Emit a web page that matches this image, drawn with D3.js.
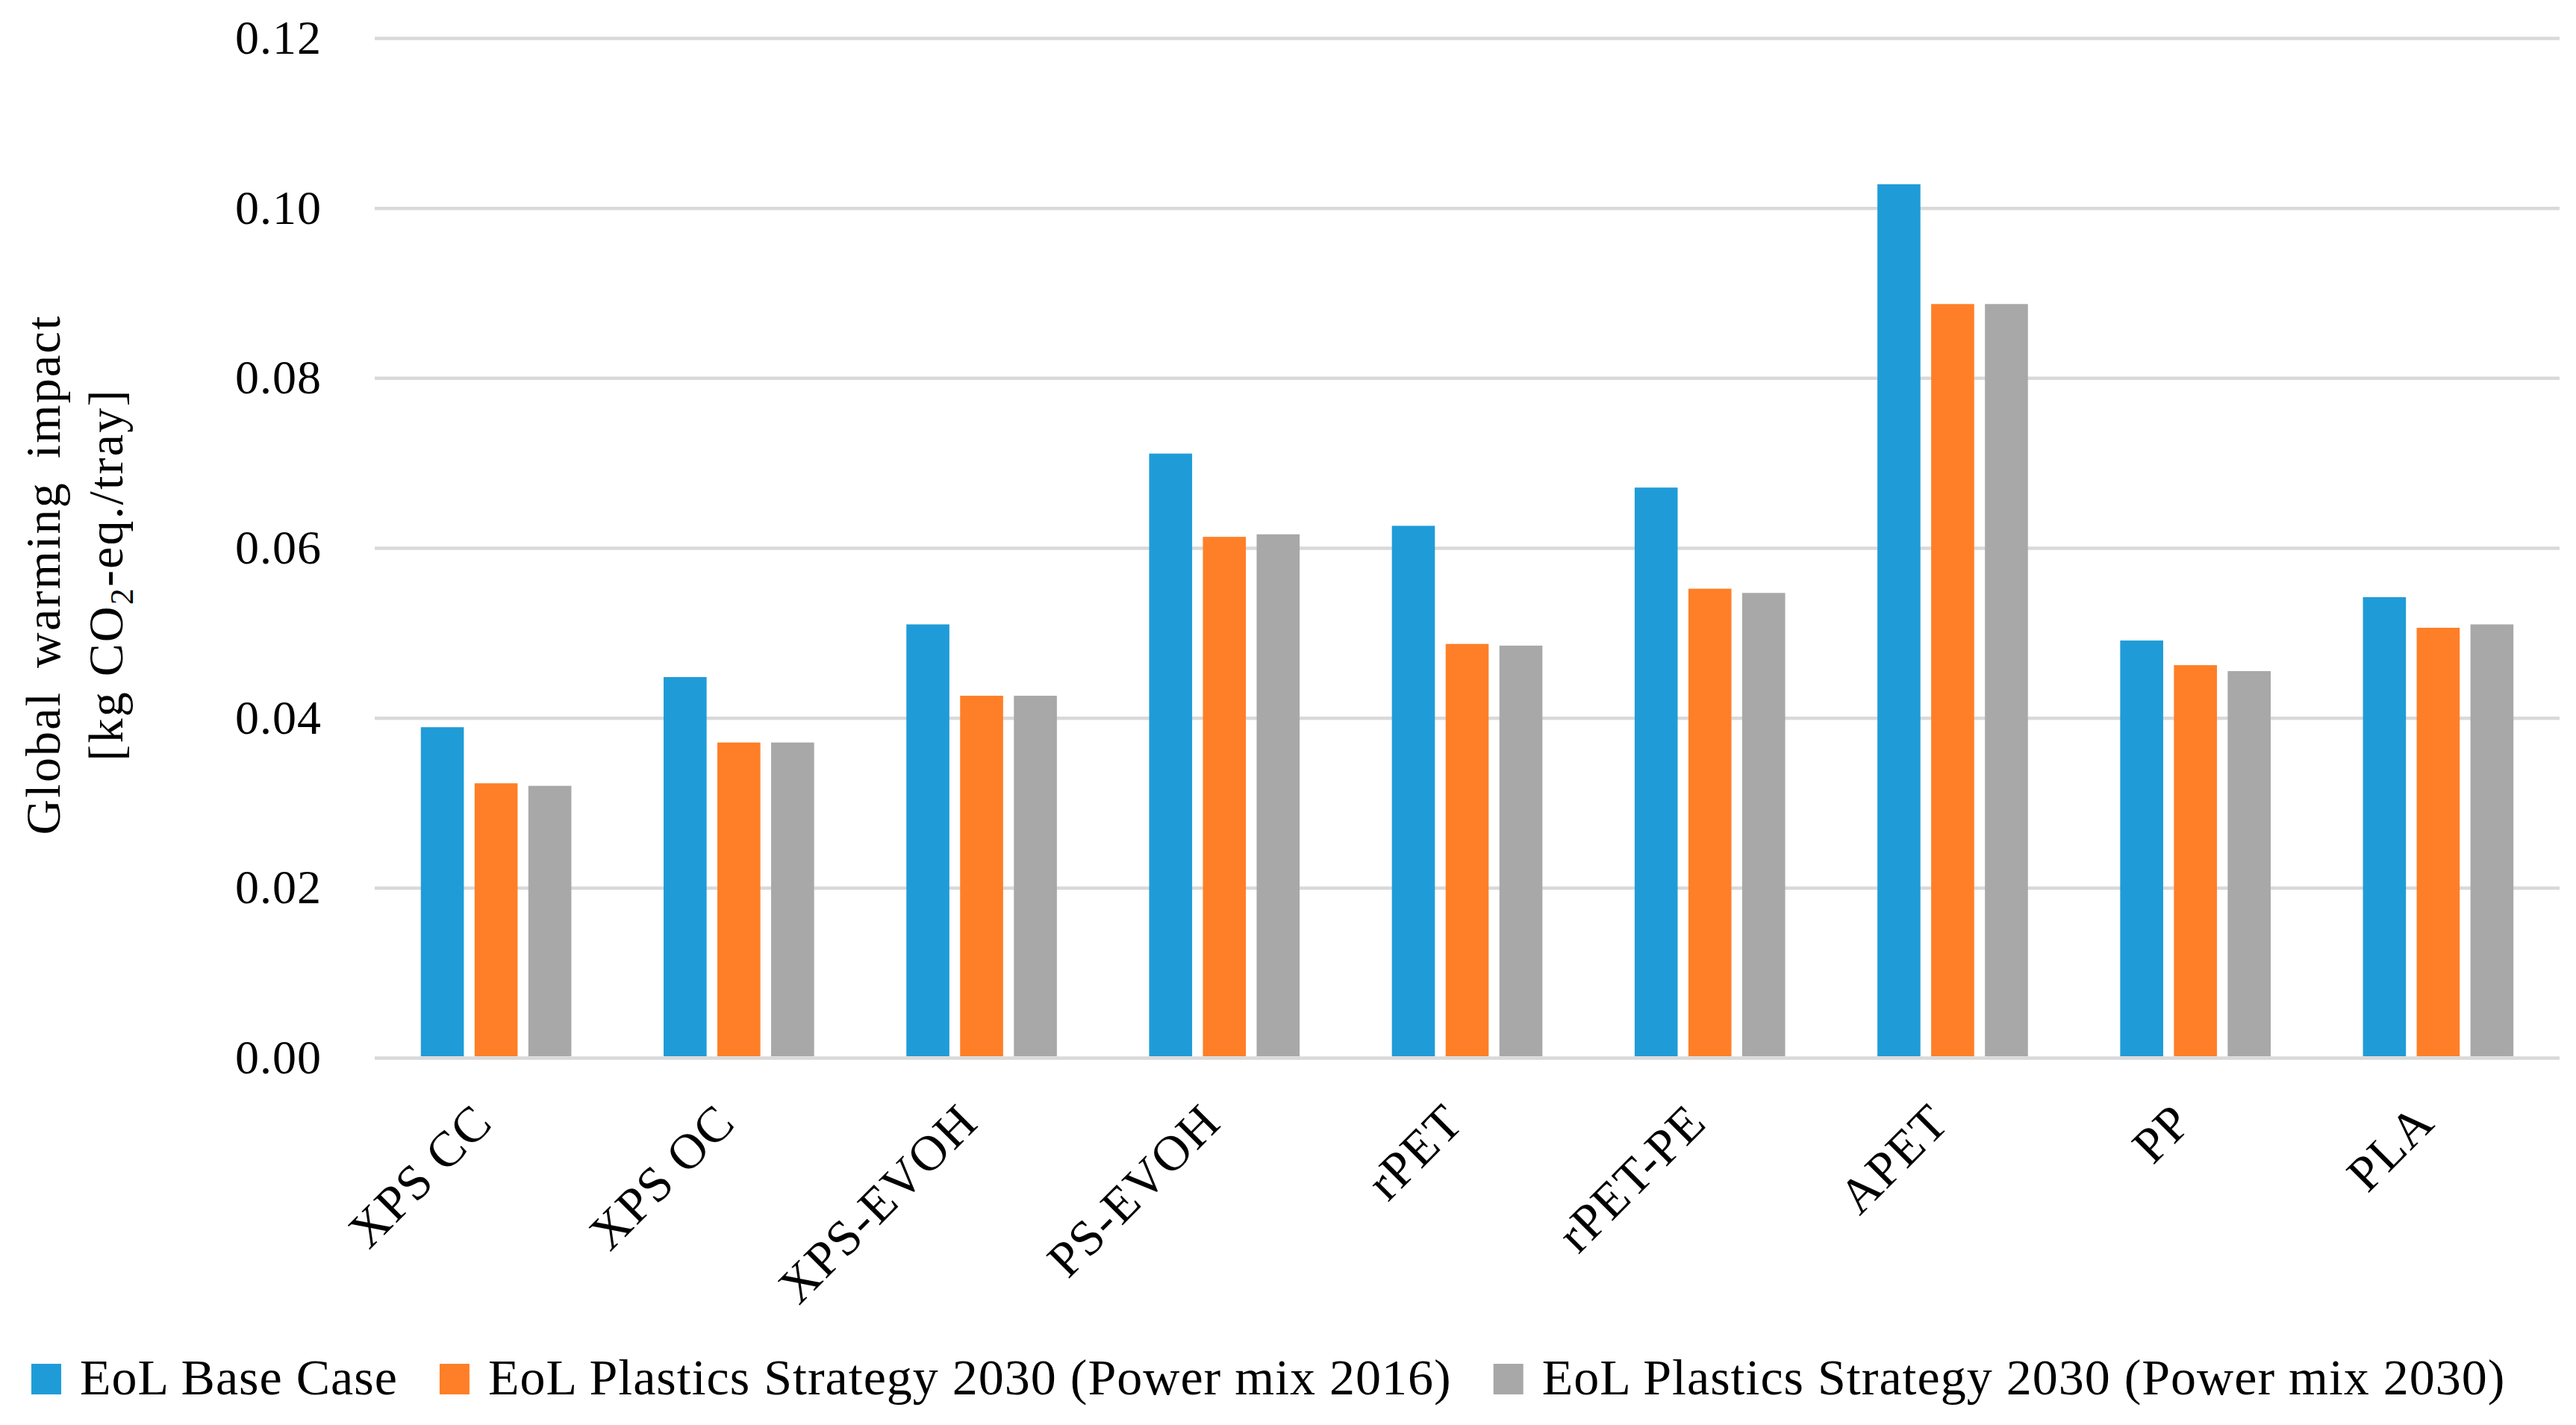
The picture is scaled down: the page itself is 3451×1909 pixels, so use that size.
<!DOCTYPE html>
<html>
<head>
<meta charset="utf-8">
<script src="https://cdn.jsdelivr.net/npm/d3@7"></script>
<style>
  body { margin: 0; background: #fff; }
  text { font-family: "Palatino Linotype", "Book Antiqua", Palatino, "Liberation Serif", serif; fill: #000; }
</style>
</head>
<body>
<div id="chart"></div>
<script>
// data
const categories = ["XPS CC", "XPS OC", "XPS-EVOH", "PS-EVOH", "rPET", "rPET-PE", "APET", "PP", "PLA"]
const seriesNames = ["EoL Base Case", "EoL Plastics Strategy 2030 (Power mix 2016)", "EoL Plastics Strategy 2030 (Power mix 2030)"]
const baseCase     = [0.0389, 0.0448, 0.0510, 0.0711, 0.0626, 0.0671, 0.1028, 0.0491, 0.0542]
const strategy2016 = [0.0323, 0.0371, 0.0426, 0.0613, 0.0487, 0.0552, 0.0887, 0.0462, 0.0506]
const strategy2030 = [0.0320, 0.0371, 0.0426, 0.0616, 0.0485, 0.0547, 0.0887, 0.0455, 0.0510]
const yTicks = [0, 0.02, 0.04, 0.06, 0.08, 0.10, 0.12]
const colors = ["#1F9CD8", "#FE7F27", "#A8A8A8"]

const seriesValues = [baseCase, strategy2016, strategy2030]

const W = 3451, H = 1909
const plotLeft = 502, plotRight = 3429, plotTop = 51, plotBottom = 1417

const svg = d3.select("#chart")
  .append("svg")
    .attr("width", W)
    .attr("height", H)

// scales
const x0 = d3.scaleBand()
  .domain(categories)
  .range([plotLeft, plotRight])
  .paddingInner(0.38)
  .paddingOuter(0.19)

const x1 = d3.scaleBand()
  .domain(seriesNames)
  .range([0, x0.bandwidth()])
  .paddingInner(0.2)

const y = d3.scaleLinear()
  .domain([0, 0.12])
  .range([plotBottom, plotTop])

// gridlines + y tick labels
const yAxis = svg.append("g")
  .attr("transform", "translate(" + plotLeft + ",0)")
  .call(d3.axisLeft(y).tickValues(yTicks).tickFormat(d3.format(".2f")).tickSize(-(plotRight - plotLeft)).tickPadding(71))

yAxis.select(".domain").remove()
yAxis.attr("font-family", null).attr("font-size", null)
yAxis.selectAll(".tick line").attr("stroke", "#D9D9D9").attr("stroke-width", 4.5)
yAxis.selectAll(".tick text").attr("font-size", 64).attr("letter-spacing", 1)

// bars
const rows = categories.map((c, i) => ({cat: c, vals: seriesValues.map((s, j) => ({name: seriesNames[j], v: s[i], k: j}))}))

svg.append("g")
  .selectAll("g")
  .data(rows)
  .enter()
  .append("g")
    .attr("transform", d => "translate(" + x0(d.cat) + ",0)")
  .selectAll("rect")
  .data(d => d.vals)
  .enter()
  .append("rect")
    .attr("x", d => x1(d.name))
    .attr("y", d => y(d.v))
    .attr("width", x1.bandwidth())
    .attr("height", d => y(0) - y(d.v) - 2)
    .style("fill", d => colors[d.k])

// category labels, rotated
svg.append("g")
  .selectAll("text")
  .data(categories)
  .enter()
  .append("text")
    .attr("transform", d => "translate(" + (x0(d) + x0.bandwidth() / 2 - 2) + "," + (plotBottom + 90) + ") rotate(-45)")
    .attr("text-anchor", "end")
    .attr("font-size", 67)
    .attr("letter-spacing", 1.5)
    .text(d => d)

// y axis title
const yTitle = svg.append("g")
  .attr("transform", "translate(0," + 770 + ") rotate(-90)")

yTitle.append("text")
  .attr("x", 0).attr("y", 80)
  .attr("text-anchor", "middle")
  .attr("font-size", 66)
  .attr("letter-spacing", 2.2)
  .attr("word-spacing", 12)
  .text("Global warming impact")

const t2 = yTitle.append("text")
  .attr("x", 0).attr("y", 164)
  .attr("text-anchor", "middle")
  .attr("font-size", 66)
  .attr("letter-spacing", 2.2)
t2.append("tspan").text("[kg CO")
t2.append("tspan").attr("font-size", 44).attr("dy", 14).text("2")
t2.append("tspan").attr("dy", -14).text("-eq./tray]")

// legend
const legend = svg.append("g")
let lx = 42
seriesNames.forEach((name, i) => {
  legend.append("rect")
    .attr("x", lx).attr("y", 1827)
    .attr("width", 40).attr("height", 41)
    .style("fill", colors[i])
  const t = legend.append("text")
    .attr("x", lx + 65).attr("y", 1868)
    .attr("font-size", 68)
    .attr("letter-spacing", 1)
    .text(name)
  lx += 65 + t.node().getComputedTextLength() + 56
})
</script>
</body>
</html>
